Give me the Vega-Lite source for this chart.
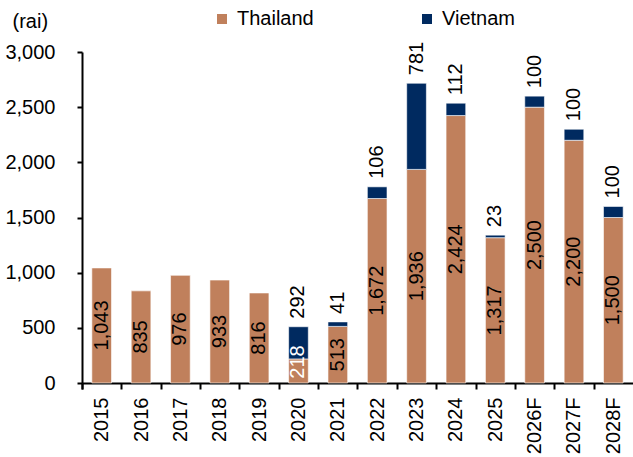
{
  "$schema": "https://vega.github.io/schema/vega-lite/v6.json",
  "autosize": "none",
  "padding": {"left": 82, "top": 52, "right": 0, "bottom": 74},
  "width": 551,
  "height": 331,
  "background": "white",
  "config": {
    "view": {"stroke": null},
    "font": "Liberation Sans",
    "axis": {"labelFont": "Liberation Sans", "titleFont": "Liberation Sans", "labelColor": "black", "titleColor": "black"},
    "legend": {"labelFont": "Liberation Sans"}
  },
  "data": {
    "values": [
      {"year": "2015", "country": "Thailand", "value": 1043},
      {"year": "2016", "country": "Thailand", "value": 835},
      {"year": "2017", "country": "Thailand", "value": 976},
      {"year": "2018", "country": "Thailand", "value": 933},
      {"year": "2019", "country": "Thailand", "value": 816},
      {"year": "2020", "country": "Thailand", "value": 218},
      {"year": "2021", "country": "Thailand", "value": 513},
      {"year": "2022", "country": "Thailand", "value": 1672},
      {"year": "2023", "country": "Thailand", "value": 1936},
      {"year": "2024", "country": "Thailand", "value": 2424},
      {"year": "2025", "country": "Thailand", "value": 1317},
      {"year": "2026F", "country": "Thailand", "value": 2500},
      {"year": "2027F", "country": "Thailand", "value": 2200},
      {"year": "2028F", "country": "Thailand", "value": 1500},
      {"year": "2020", "country": "Vietnam", "value": 292},
      {"year": "2021", "country": "Vietnam", "value": 41},
      {"year": "2022", "country": "Vietnam", "value": 106},
      {"year": "2023", "country": "Vietnam", "value": 781},
      {"year": "2024", "country": "Vietnam", "value": 112},
      {"year": "2025", "country": "Vietnam", "value": 23},
      {"year": "2026F", "country": "Vietnam", "value": 100},
      {"year": "2027F", "country": "Vietnam", "value": 100},
      {"year": "2028F", "country": "Vietnam", "value": 100}
    ]
  },
  "transform": [
    {"joinaggregate": [{"op": "sum", "field": "value", "as": "total"}], "groupby": ["year"]},
    {"calculate": "max(datum.value / 2, 190)", "as": "mid"}
  ],
  "encoding": {
    "x": {
      "field": "year", "type": "nominal", "sort": null,
      "scale": {"paddingInner": 0.5, "paddingOuter": 0.25},
      "axis": {
        "title": null, "labelAngle": -90, "labelFontSize": 20, "labelAlign": "right", "labelBaseline": "middle",
        "labelPadding": 8, "domainColor": "black", "domainWidth": 2, "ticks": true, "tickColor": "black", "tickWidth": 2,
        "tickOpacity": 1, "tickSize": 6, "bandPosition": 0, "tickOffset": -9.84, "labelOffset": 9.84, "tickExtra": true
      }
    }
  },
  "layer": [
    {
      "mark": {"type": "bar", "stroke": "white", "strokeWidth": 1, "strokeOpacity": 0.6},
      "encoding": {
        "y": {
          "field": "value", "type": "quantitative", "stack": "zero",
          "scale": {"domain": [0, 3000], "nice": false},
          "axis": {
            "values": [0, 500, 1000, 1500, 2000, 2500, 3000], "format": ",.0f", "grid": false,
            "labelFontSize": 20, "labelPadding": 22, "domainColor": "black", "domainWidth": 2,
            "tickColor": "black", "tickWidth": 2, "tickSize": 5,
            "title": "(rai)", "titleAngle": 0, "titleAlign": "left", "titleBaseline": "middle",
            "titleX": -70, "titleY": -31, "titleFontSize": 20, "titleFontWeight": "normal"
          }
        },
        "color": {
          "field": "country", "type": "nominal",
          "scale": {"domain": ["Thailand", "Vietnam"], "range": ["#C0805C", "#002A60"]},
          "legend": {
            "title": null, "orient": "none", "direction": "horizontal", "legendX": 130, "legendY": -43,
            "symbolType": "square", "symbolSize": 100, "symbolStrokeWidth": 0, "labelFontSize": 20,
            "labelOffset": 5, "columnPadding": 103, "padding": 0, "labelColor": "black"
          }
        },
        "order": {"field": "country", "sort": "ascending"}
      }
    },
    {
      "transform": [{"filter": "datum.country === 'Thailand'"}],
      "mark": {"type": "text", "angle": 270, "align": "center", "baseline": "middle", "fontSize": 20},
      "encoding": {
        "y": {"field": "mid", "type": "quantitative"},
        "text": {"field": "value", "type": "quantitative", "format": ",.0f"},
        "color": {"condition": {"test": "datum.value < 300", "value": "white"}, "value": "black"}
      }
    },
    {
      "transform": [{"filter": "datum.country === 'Vietnam'"}],
      "mark": {"type": "text", "angle": 270, "align": "left", "baseline": "middle", "fontSize": 20, "dx": 8, "color": "black"},
      "encoding": {
        "y": {"field": "total", "type": "quantitative"},
        "text": {"field": "value", "type": "quantitative", "format": ",.0f"}
      }
    }
  ]
}
